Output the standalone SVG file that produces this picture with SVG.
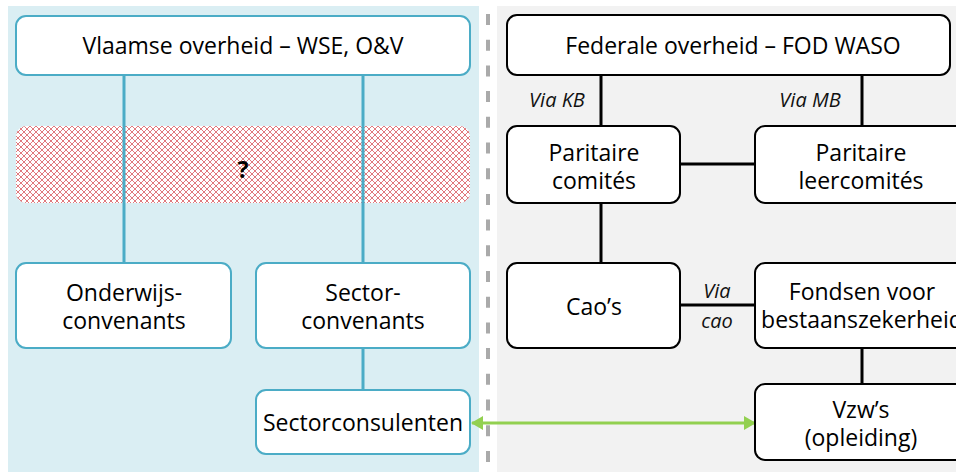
<svg xmlns="http://www.w3.org/2000/svg" width="956" height="472" viewBox="0 0 956 472">
<defs>
<style>
.t{font-family:"Open Sans","DejaVu Sans",sans-serif;font-size:23px;fill:#000;text-anchor:middle}
.i{font-family:"Open Sans","DejaVu Sans",sans-serif;font-size:20px;font-style:italic;fill:#111;text-anchor:middle}
.bn{fill:#fff;stroke:#4bacc6;stroke-width:2}
.kn{fill:#fff;stroke:#000;stroke-width:2}
.bl{stroke:#4bacc6;stroke-width:3;fill:none}
.kl{stroke:#000;stroke-width:3;fill:none}
</style>
<pattern id="hatch" width="6" height="6" patternUnits="userSpaceOnUse">
<path d="M0,0 L6,6 M6,0 L0,6" stroke="#d8585c" stroke-width="1" stroke-opacity="0.8"/>
</pattern>
<marker id="ga" viewBox="0 0 12 14" refX="11" refY="7" markerWidth="12" markerHeight="14" markerUnits="userSpaceOnUse" orient="auto-start-reverse">
<path d="M0,0 L12,7 L0,14 Z" fill="#92d050"/>
</marker>
</defs>
<rect x="0" y="0" width="956" height="472" fill="#fff"/>
<rect x="8" y="6" width="471" height="466" fill="#daeef3"/>
<rect x="497" y="6" width="459" height="466" fill="#f2f2f2"/>
<line x1="488" y1="14" x2="488" y2="472" stroke="#aaa" stroke-width="4" stroke-dasharray="11 14.7"/>

<g id="hatched-band">
<rect x="16" y="126" width="454" height="77" rx="10" fill="#fff"/>
<rect x="16" y="126" width="454" height="77" rx="10" fill="url(#hatch)"/>
</g>

<g id="connectors">
<line class="bl" x1="124" y1="75" x2="124" y2="263"/>
<line class="bl" x1="363" y1="75" x2="363" y2="263"/>
<line class="bl" x1="363" y1="348" x2="363" y2="390"/>
<line class="kl" x1="601" y1="75" x2="601" y2="126"/>
<line class="kl" x1="862" y1="75" x2="862" y2="126"/>
<line class="kl" x1="680" y1="164" x2="755" y2="164"/>
<line class="kl" x1="601" y1="203" x2="601" y2="263"/>
<line class="kl" x1="680" y1="305" x2="755" y2="305"/>
<line class="kl" x1="862" y1="348" x2="862" y2="384"/>
<line x1="472" y1="423" x2="755" y2="423" stroke="#92d050" stroke-width="3" marker-start="url(#ga)" marker-end="url(#ga)"/>
<text class="i" x="557" y="107">Via KB</text>
<text class="i" x="810" y="107">Via MB</text>
<text class="i" x="717" y="298">Via</text>
<text class="i" x="717" y="328">cao</text>
</g>

<text x="243" y="178" font-family="'Open Sans','DejaVu Sans',sans-serif" font-size="23" font-weight="bold" text-anchor="middle">?</text>

<g id="vlaamse-overheid">
<rect class="bn" x="16" y="16" width="454" height="59" rx="10"/>
<text class="t" x="243" y="54">Vlaamse overheid – WSE, O&amp;V</text>
</g>
<g id="onderwijsconvenants">
<rect class="bn" x="16" y="263" width="215" height="85" rx="10"/>
<text class="t" x="124" y="301">Onderwijs-</text>
<text class="t" x="124" y="329">convenants</text>
</g>
<g id="sectorconvenants">
<rect class="bn" x="256" y="263" width="214" height="85" rx="10"/>
<text class="t" x="363" y="301">Sector-</text>
<text class="t" x="363" y="329">convenants</text>
</g>
<g id="sectorconsulenten">
<rect class="bn" x="256" y="390" width="214" height="64" rx="10"/>
<text class="t" x="363" y="431">Sectorconsulenten</text>
</g>

<g id="federale-overheid">
<rect class="kn" x="507" y="15" width="443" height="60" rx="10"/>
<text class="t" x="733" y="54">Federale overheid – FOD WASO</text>
</g>
<g id="paritaire-comites">
<rect class="kn" x="507" y="126" width="173" height="77" rx="10"/>
<text class="t" x="594" y="161">Paritaire</text>
<text class="t" x="594" y="189">comités</text>
</g>
<g id="paritaire-leercomites">
<rect class="kn" x="755" y="126" width="212" height="77" rx="10"/>
<text class="t" x="861" y="161">Paritaire</text>
<text class="t" x="861" y="189">leercomités</text>
</g>
<g id="caos">
<rect class="kn" x="507" y="263" width="173" height="85" rx="10"/>
<text class="t" x="594" y="315">Cao’s</text>
</g>
<g id="fondsen">
<rect class="kn" x="755" y="263" width="212" height="85" rx="10"/>
<text class="t" x="862" y="300">Fondsen voor</text>
<text class="t" x="862" y="328">bestaanszekerheid</text>
</g>
<g id="vzws">
<rect class="kn" x="755" y="384" width="212" height="76" rx="10"/>
<text class="t" x="861" y="418">Vzw’s</text>
<text class="t" x="861" y="446">(opleiding)</text>
</g>
</svg>
